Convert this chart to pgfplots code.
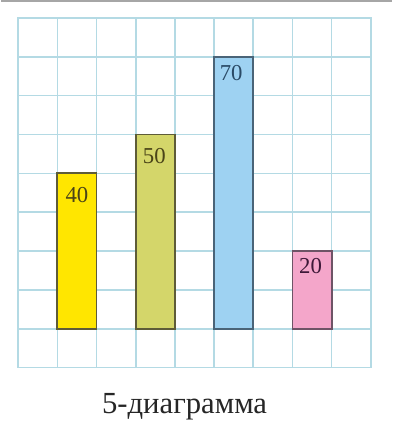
\documentclass[border=0pt]{standalone}
\usepackage{fontspec}
\setmainfont{Liberation Serif}
\usepackage{pgfplots}
\pgfplotsset{compat=1.18}
\definecolor{gridblue}{HTML}{B4DAE4}
\definecolor{byellow}{HTML}{FFE600}
\definecolor{bolive}{HTML}{D4D66A}
\definecolor{bblue}{HTML}{9ED2F2}
\definecolor{bpink}{HTML}{F4A6CA}
\definecolor{edgeolive}{HTML}{5E5C38}
\definecolor{edgeblue}{HTML}{4A6478}
\definecolor{edgepink}{HTML}{6E5466}
\definecolor{txtolive}{HTML}{4A4418}
\definecolor{txtblue}{HTML}{2A4A66}
\definecolor{txtpink}{HTML}{3E1838}
\begin{document}
\begin{tikzpicture}
\begin{axis}[
  width=355bp, height=352bp, scale only axis,
  xmin=0, xmax=9, ymin=-10, ymax=80,
  xtick={0,...,9}, ytick={-10,0,...,80},
  xticklabels={}, yticklabels={},
  major tick length=0pt,
  grid=major,
  grid style={gridblue, line width=1.6bp},
  axis line style={gridblue, line width=1.6bp},
  ybar, bar width=1, bar shift=0pt,
  clip=false,
  /pgf/number format/assume math mode=true,
  nodes near coords,
  xlabel={5-диаграмма},
  xlabel style={at={(axis description cs:0.5,0)}, anchor=center, yshift=-39bp, xshift=-10bp, font=\fontsize{31}{34}\selectfont, text=black!85},
]
\addplot[fill=byellow, draw=edgeolive, line width=1.8bp,
  every node near coord/.style={anchor=north, yshift=-10bp, xshift=0bp, font=\fontsize{23}{24}\selectfont, text=txtolive}] coordinates {(1.5,40)};
\addplot[fill=bolive, draw=edgeolive, line width=1.8bp,
  every node near coord/.style={anchor=north, yshift=-10bp, xshift=-1bp, font=\fontsize{23}{24}\selectfont, text=txtolive}] coordinates {(3.5,50)};
\addplot[fill=bblue, draw=edgeblue, line width=1.8bp,
  every node near coord/.style={anchor=north, yshift=-4bp, xshift=-2.5bp, font=\fontsize{23}{24}\selectfont, text=txtblue}] coordinates {(5.5,70)};
\addplot[fill=bpink, draw=edgepink, line width=1.8bp,
  every node near coord/.style={anchor=north, yshift=-3bp, xshift=-1.5bp, font=\fontsize{23}{24}\selectfont, text=txtpink}] coordinates {(7.5,20)};
\end{axis}
\path (current axis.south west) +(-17bp,-53bp) (current axis.north east) +(21bp,18bp);
\draw[gray!70, line width=2.5bp] ([yshift=16.75bp,xshift=-17bp]current axis.north west) -- ([yshift=16.75bp,xshift=21bp]current axis.north east);
\end{tikzpicture}
\end{document}
